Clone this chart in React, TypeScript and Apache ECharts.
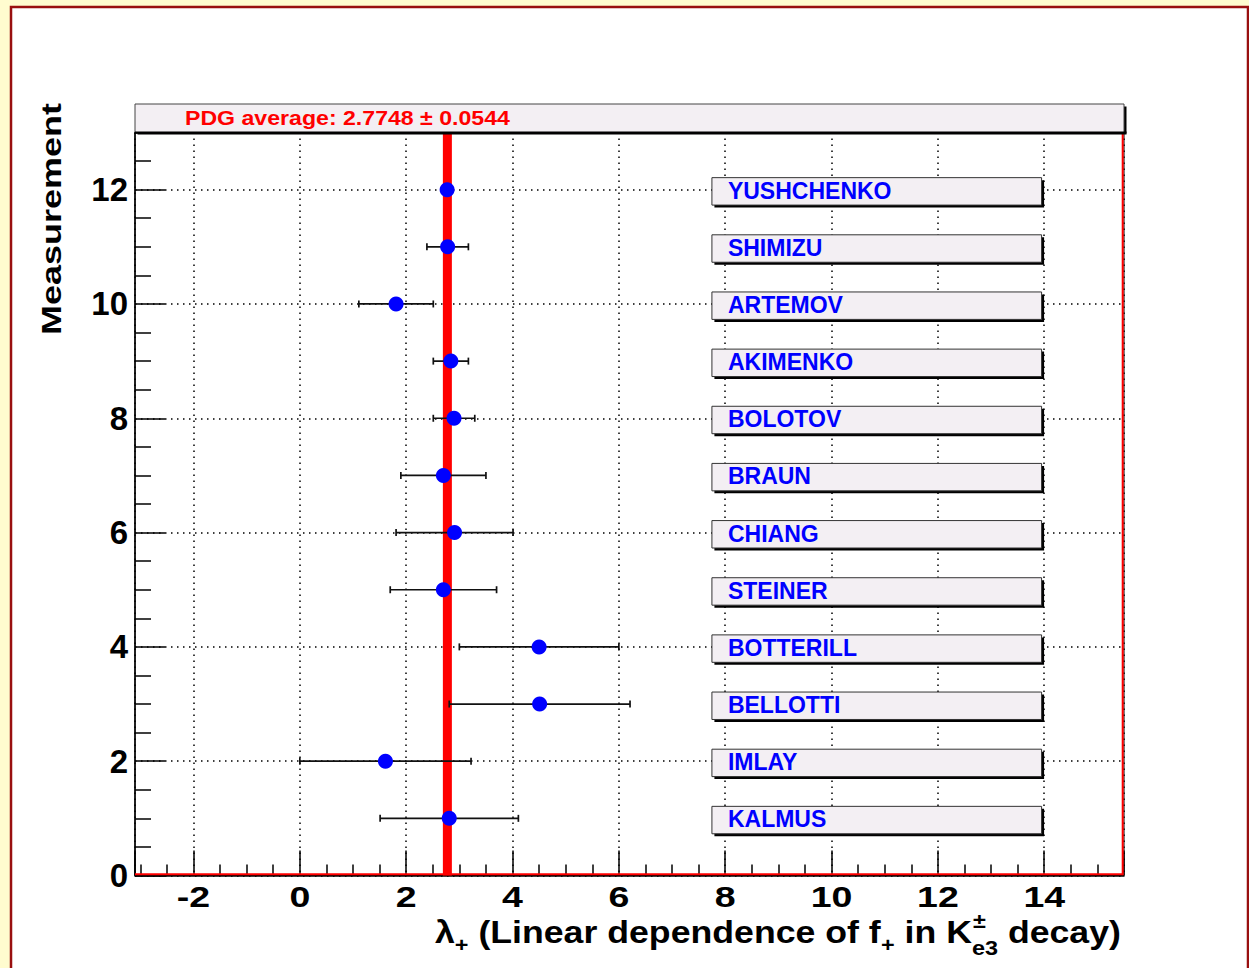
import React, { useEffect, useRef } from "react";
import * as echarts from "echarts";

// Measurements of the K± e3 form-factor slope λ+ (×100), one row per experiment
const experiments = [
  "KALMUS",
  "IMLAY",
  "BELLOTTI",
  "BOTTERILL",
  "STEINER",
  "CHIANG",
  "BRAUN",
  "BOLOTOV",
  "AKIMENKO",
  "ARTEMOV",
  "SHIMIZU",
  "YUSHCHENKO",
];
const measurementIndex = [1, 2, 3, 4, 5, 6, 7, 8, 9, 10, 11, 12];
const lambdaValues = [2.81, 1.61, 4.51, 4.5, 2.7, 2.91, 2.7, 2.9, 2.84, 1.81, 2.78, 2.77];
const lambdaErrors = [1.3, 1.61, 1.7, 1.5, 1.0, 1.1, 0.8, 0.39, 0.33, 0.7, 0.39, 0.06];

const pdgAverage = 2.7748;
const pdgError = 0.0544;

const xTickLabels = [-2, 0, 2, 4, 6, 8, 10, 12, 14];
const yTickLabels = [0, 2, 4, 6, 8, 10, 12];
const xRange = [-3.1, 15.5];
const yRange = [0, 13];
const labelBoxRange = [7.75, 13.95];

const FONT = "'Liberation Sans', Arial, Helvetica, sans-serif";

// frame geometry (pixels)
const GRID_LEFT = 135;
const GRID_TOP = 132.5;
const GRID_W = 989;
const GRID_H = 743;

function makeMeasurer() {
  const canvas = document.createElement("canvas");
  const ctx = canvas.getContext("2d")!;
  return (text: string, size: number) => {
    ctx.font = `bold ${size}px ${FONT}`;
    return ctx.measureText(text).width;
  };
}

function buildXTitle(measure: (t: string, s: number) => number) {
  const main = 32;
  const small = 21;
  const yMain = 932;
  const ySub = 945;
  const ySup = 921;
  const ySub2 = 948;
  const parts: { text: string; size: number; x: number; y: number }[] = [];
  let cx = 0;
  const add = (text: string, size: number, y: number) => {
    parts.push({ text, size, x: cx, y });
    cx += measure(text, size);
  };
  add("λ", main, yMain);
  add("+", small, ySub);
  add(" (Linear dependence of f", main, yMain);
  add("+", small, ySub);
  add(" in K", main, yMain);
  const wSup = measure("±", small);
  const wSub = measure("e3", small);
  parts.push({ text: "±", size: small, x: cx + 1, y: ySup });
  parts.push({ text: "e3", size: small, x: cx, y: ySub2 });
  cx += Math.max(wSup, wSub);
  add(" decay)", main, yMain);
  const scale = 686 / cx;
  return {
    type: "group",
    x: 435,
    y: 0,
    scaleX: scale,
    z: 10,
    children: parts.map((p) => ({
      type: "text",
      x: p.x,
      y: p.y,
      style: {
        text: p.text,
        fill: "#000",
        fontSize: p.size,
        fontWeight: "bold",
        fontFamily: FONT,
        align: "left",
        verticalAlign: "middle",
      },
    })),
  };
}

export default function App() {
  const ref = useRef<HTMLDivElement>(null);

  useEffect(() => {
    if (!ref.current) return;
    document.body.style.margin = "0";
    const chart = echarts.init(ref.current, undefined, { renderer: "svg" });
    const measure = makeMeasurer();

    const yTitle = "Measurement";
    const yTitleSize = 28;
    const yTitleScale = 232 / measure(yTitle, yTitleSize);

    const pdgText = `PDG average: ${pdgAverage} \u00b1 ${pdgError}`;
    const pdgSize = 21;
    const pdgScale = 325 / measure(pdgText, pdgSize);

    const tickLine = { color: "#000", width: 1.5 };

    const graphics: any[] = [
      {
        // canvas pad
        type: "rect",
        z: -10,
        silent: true,
        shape: { x: 11, y: 7, width: 1237, height: 1000 },
        style: { fill: "#ffffff", stroke: "#990f0f", lineWidth: 2.5 },
      },
      {
        type: "rect",
        z: 6,
        silent: true,
        shape: { x: GRID_LEFT + 2.5, y: 106.5, width: GRID_W, height: 28 },
        style: { fill: "#000" },
      },
      {
        type: "rect",
        z: 7,
        silent: true,
        shape: { x: GRID_LEFT, y: 104, width: GRID_W, height: GRID_TOP - 104 },
        style: { fill: "#f3eff3", stroke: "#444", lineWidth: 1 },
      },
      {
        type: "line",
        z: 7,
        silent: true,
        shape: { x1: GRID_LEFT, y1: GRID_TOP, x2: GRID_LEFT + GRID_W + 2.5, y2: GRID_TOP },
        style: { stroke: "#000", lineWidth: 2 },
      },
      {
        type: "text",
        z: 8,
        silent: true,
        x: 185,
        y: 118,
        scaleX: pdgScale,
        style: {
          text: pdgText,
          fill: "#ff0000",
          fontSize: pdgSize,
          fontWeight: "bold",
          fontFamily: FONT,
          align: "left",
          verticalAlign: "middle",
        },
      },
      {
        // red frame edges (bottom and right)
        type: "line",
        z: 5,
        silent: true,
        shape: { x1: GRID_LEFT, y1: GRID_TOP + GRID_H - 1.3, x2: GRID_LEFT + GRID_W - 1.3, y2: GRID_TOP + GRID_H - 1.3 },
        style: { stroke: "#ff0000", lineWidth: 2 },
      },
      {
        type: "line",
        z: 5,
        silent: true,
        shape: { x1: GRID_LEFT + GRID_W - 1.3, y1: GRID_TOP + 1, x2: GRID_LEFT + GRID_W - 1.3, y2: GRID_TOP + GRID_H - 0.3 },
        style: { stroke: "#ff0000", lineWidth: 2 },
      },
      {
        type: "text",
        z: 10,
        silent: true,
        x: 51,
        y: 219,
        rotation: Math.PI / 2,
        scaleX: yTitleScale,
        style: {
          text: yTitle,
          fill: "#000",
          fontSize: yTitleSize,
          fontWeight: "bold",
          fontFamily: FONT,
          align: "center",
          verticalAlign: "middle",
        },
      },
      buildXTitle(measure),
    ];

    const option: any = {
      animation: false,
      backgroundColor: "#fffccf",
      tooltip: { show: false },
      grid: {
        left: GRID_LEFT,
        top: GRID_TOP,
        width: GRID_W,
        height: GRID_H,
        show: true,
        borderColor: "#000",
        borderWidth: 1,
        backgroundColor: "transparent",
      },
      xAxis: {
        type: "value",
        min: xRange[0],
        max: xRange[1],
        splitNumber: 9,
        minInterval: 2,
        maxInterval: 2,
        axisLine: { show: true, onZero: false, lineStyle: tickLine },
        axisTick: { show: true, inside: true, length: 25, lineStyle: tickLine },
        minorTick: { show: true, splitNumber: 4, length: 11, lineStyle: tickLine },
        splitLine: { show: true, lineStyle: { color: "#000", width: 1.5, type: [1.5, 4.5] } },
        axisLabel: { show: false },
      },
      yAxis: {
        type: "value",
        min: yRange[0],
        max: yRange[1],
        interval: 2,
        axisLine: { show: true, onZero: false, lineStyle: tickLine },
        axisTick: { show: true, inside: true, length: 30, lineStyle: tickLine },
        minorTick: { show: true, splitNumber: 4, length: 16, lineStyle: tickLine },
        splitLine: { show: true, lineStyle: { color: "#000", width: 1.5, type: [1.5, 4.5] } },
        axisLabel: {
          show: true,
          margin: 7,
          color: "#000",
          fontSize: 33,
          fontWeight: "bold",
          fontFamily: FONT,
          showMaxLabel: false,
          formatter: (v: number) => (yTickLabels.includes(v) ? String(v) : ""),
        },
      },
      series: [
        {
          // PDG average band
          type: "custom",
          z: 1,
          silent: true,
          data: [[pdgAverage, yRange[0], yRange[1]]],
          encode: { x: 0, y: [1, 2] },
          renderItem: (_p: any, api: any) => {
            const a = api.coord([api.value(0), api.value(1)]);
            const b = api.coord([api.value(0), api.value(2)]);
            return {
              type: "line",
              shape: { x1: a[0], y1: a[1], x2: b[0], y2: b[1] },
              style: { stroke: "#ff0000", lineWidth: 9 },
            };
          },
        },
        {
          // experiment name boxes
          type: "custom",
          z: 2,
          silent: true,
          data: measurementIndex.map((m) => [labelBoxRange[0], m, labelBoxRange[1]]),
          encode: { x: [0, 2], y: 1 },
          renderItem: (params: any, api: any) => {
            const y = api.value(1);
            const tl = api.coord([api.value(0), y + 0.21]);
            const br = api.coord([api.value(2), y - 0.27]);
            const mid = api.coord([api.value(0), y]);
            const w = br[0] - tl[0];
            const h = br[1] - tl[1];
            return {
              type: "group",
              children: [
                {
                  type: "rect",
                  shape: { x: tl[0] + 2.5, y: tl[1] + 2.5, width: w, height: h },
                  style: { fill: "#000" },
                },
                {
                  type: "rect",
                  shape: { x: tl[0], y: tl[1], width: w, height: h },
                  style: { fill: "#f3eff3", stroke: "#333", lineWidth: 1 },
                },
                {
                  type: "text",
                  x: tl[0] + 16,
                  y: mid[1] + 1,
                  style: {
                    text: experiments[params.dataIndex],
                    fill: "#0000ff",
                    fontSize: 23,
                    fontWeight: "bold",
                    fontFamily: FONT,
                    align: "left",
                    verticalAlign: "middle",
                  },
                },
              ],
            };
          },
        },
        {
          // horizontal error bars
          type: "custom",
          z: 3,
          silent: true,
          data: lambdaValues.map((v, i) => [v - lambdaErrors[i], measurementIndex[i], v + lambdaErrors[i]]),
          encode: { x: [0, 2], y: 1 },
          renderItem: (_p: any, api: any) => {
            const lo = api.coord([api.value(0), api.value(1)]);
            const hi = api.coord([api.value(2), api.value(1)]);
            const cap = 3.5;
            const st = { stroke: "#111", lineWidth: 1.7 };
            return {
              type: "group",
              children: [
                { type: "line", shape: { x1: lo[0], y1: lo[1], x2: hi[0], y2: hi[1] }, style: st },
                { type: "line", shape: { x1: lo[0], y1: lo[1] - cap, x2: lo[0], y2: lo[1] + cap }, style: st },
                { type: "line", shape: { x1: hi[0], y1: hi[1] - cap, x2: hi[0], y2: hi[1] + cap }, style: st },
              ],
            };
          },
        },
        {
          type: "scatter",
          z: 4,
          silent: true,
          symbol: "circle",
          symbolSize: 15,
          itemStyle: { color: "#0000ff", opacity: 1 },
          data: lambdaValues.map((v, i) => [v, measurementIndex[i]]),
        },
      ],
      graphic: graphics,
    };

    chart.setOption(option);

    // x tick labels, placed through the axis scale
    const xLabelGraphics = xTickLabels.map((v) => ({
      type: "text",
      z: 10,
      silent: true,
      x: chart.convertToPixel({ xAxisIndex: 0 }, v) as number,
      y: 896,
      scaleX: 1.25,
      style: {
        text: String(v),
        fill: "#000",
        fontSize: 30,
        fontWeight: "bold",
        fontFamily: FONT,
        align: "center",
        verticalAlign: "middle",
      },
    }));
    chart.setOption({ graphic: [...graphics, ...xLabelGraphics] });

    return () => chart.dispose();
  }, []);

  return (
    <div
      ref={ref}
      style={{ position: "fixed", left: 0, top: 0, width: 1249, height: 968 }}
    />
  );
}
